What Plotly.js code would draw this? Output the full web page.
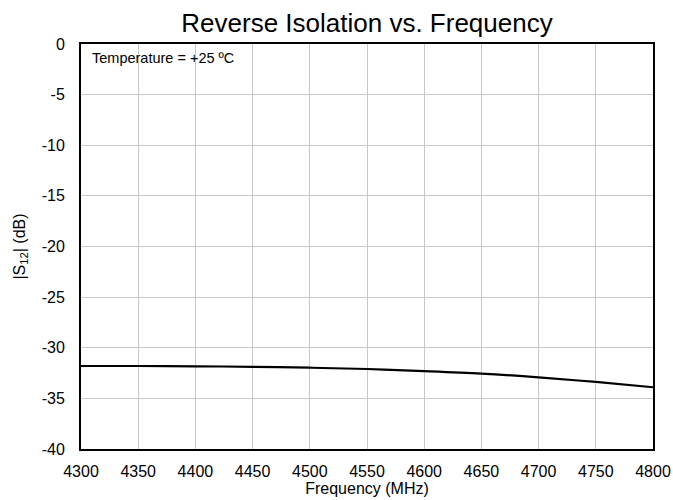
<!DOCTYPE html>
<html><head><meta charset="utf-8">
<script src="https://cdn.plot.ly/plotly-3.0.1.min.js"></script>
<style>html,body{margin:0;padding:0;background:#fff}#c{width:673px;height:500px}</style>
</head><body><div id="c"></div>
<script>
const freqMHz = [4300, 4350, 4400, 4450, 4500, 4550, 4600, 4650, 4700, 4750, 4800];
const s12dB = [-31.8, -31.8, -31.83, -31.88, -31.97, -32.1, -32.3, -32.55, -32.92, -33.38, -33.9];
const xTicks = [4300, 4350, 4400, 4450, 4500, 4550, 4600, 4650, 4700, 4750, 4800];
const yTicks = [0, -5, -10, -15, -20, -25, -30, -35, -40];

const font = "Liberation Sans, Arial, sans-serif";
Plotly.newPlot('c', [{
  x: freqMHz, y: s12dB, type: 'scatter', mode: 'lines',
  line: {color: '#000', width: 2.2, shape: 'spline'}, hoverinfo: 'none'
}], {
  width: 673, height: 500,
  margin: {l: 81, r: 20, t: 44, b: 51},
  paper_bgcolor: '#fff', plot_bgcolor: '#fff',
  showlegend: false,
  title: {text: 'Reverse Isolation vs. Frequency', font: {family: font, size: 26, color: '#000'},
          xref: 'paper', x: 0.5, xanchor: 'center', yref: 'container', y: 1 - 23/500, yanchor: 'middle'},
  xaxis: {
    range: [4300, 4800], tickvals: xTicks, ticktext: xTicks.map(String),
    showgrid: true, gridcolor: '#c8c8c8', gridwidth: 1,
    showline: true, linecolor: '#000', linewidth: 2, mirror: true,
    ticks: 'outside', ticklen: 7, tickcolor: 'rgba(0,0,0,0)', zeroline: false,
    tickfont: {family: font, size: 16, color: '#000'},
    title: {text: 'Frequency (MHz)', font: {family: font, size: 16, color: '#000'}, standoff: 4}
  },
  yaxis: {
    range: [-40, 0], tickvals: yTicks, ticktext: yTicks.map(String),
    showgrid: true, gridcolor: '#c8c8c8', gridwidth: 1,
    showline: true, linecolor: '#000', linewidth: 2, mirror: true,
    ticks: 'outside', ticklen: 11, tickcolor: 'rgba(0,0,0,0)', zeroline: false,
    tickfont: {family: font, size: 16, color: '#000'},
    title: {text: '|S<sub>12</sub>| (dB)', font: {family: font, size: 16, color: '#000'}, standoff: 12}
  },
  annotations: [{
    text: 'Temperature = +25 ºC', xref: 'paper', yref: 'paper', x: 0.015, y: 0.99,
    xanchor: 'left', yanchor: 'top', showarrow: false,
    font: {family: font, size: 14.5, color: '#000'}
  }]
}, {displayModeBar: false, staticPlot: true});
</script></body></html>
